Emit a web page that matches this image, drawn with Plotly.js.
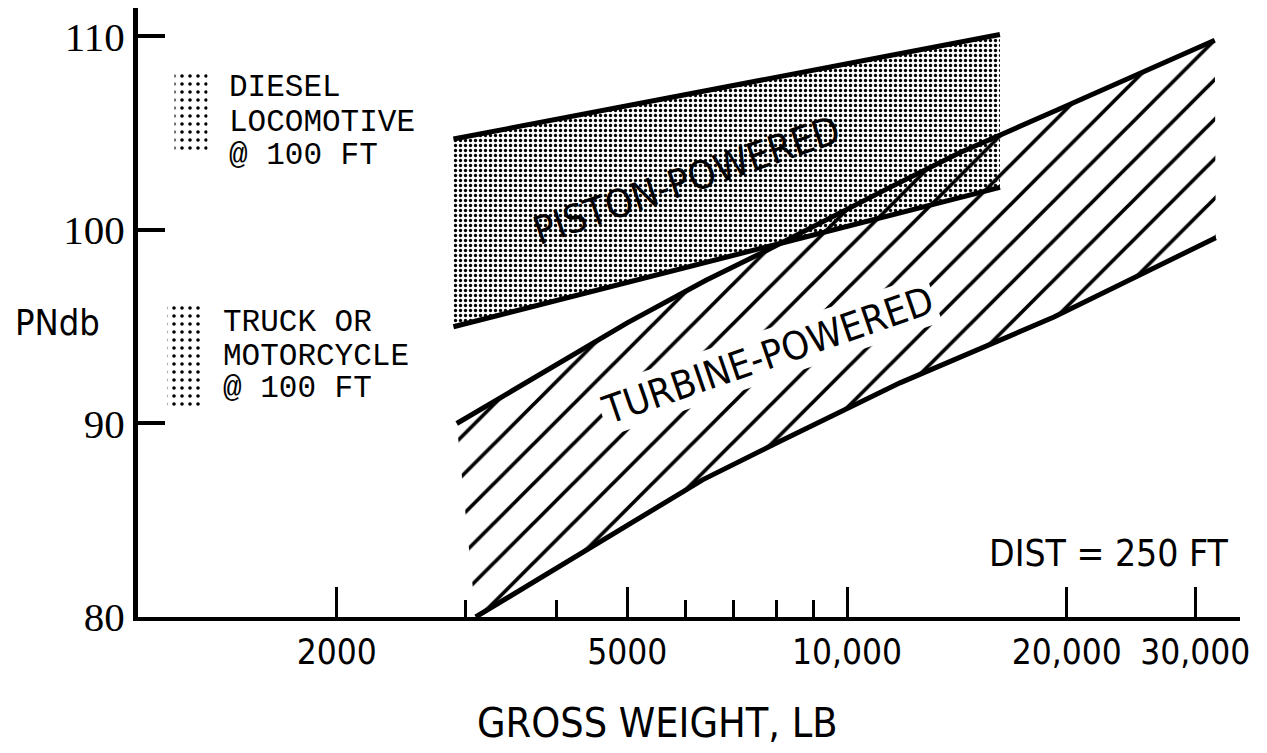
<!DOCTYPE html>
<html>
<head>
<meta charset="utf-8">
<script src="https://cdn.plot.ly/plotly-3.0.1.min.js"></script>
<style>
  html, body { margin: 0; padding: 0; background: #ffffff; }
  #chart { width: 1267px; height: 753px; }
</style>
</head>
<body>
<div id="chart"></div>
<script>
// ---------------- DATA ----------------
// Piston-powered band (gross weight, lb -> PNdb)
const pistonWeight = [2890, 16200];
const pistonLower  = [95.0, 102.2];
const pistonUpper  = [104.7, 110.1];

// Turbine-powered band
const turbineUpperWeight = [2920, 3880, 5000, 6410, 7770, 11450, 14290, 19400, 23900, 31900];
const turbineUpperPNdb   = [90.0, 92.75, 95.2, 97.4, 98.95, 102.2, 104.0, 106.2, 107.7, 109.8];
const turbineLowerWeight = [3100, 3760, 4930, 6350, 8020, 11820, 19210, 32000];
const turbineLowerPNdb   = [80.0, 81.9, 84.6, 87.1, 89.0, 92.1, 95.5, 99.6];

// Reference noise ranges at 100 ft (PNdb: low, high)
const dieselRange = [104.1, 108.2];
const truckRange  = [90.9, 96.1];

// Axis ticks
const weightTicks     = [2000, 5000, 10000, 20000, 30000];
const weightTickText  = ['2000', '5000', '10,000', '20,000', '30,000'];
const weightMinorTicks = [3000, 4000, 6000, 7000, 8000, 9000];
const pndbTicks = [80, 90, 100, 110];

// ---------------- LAYOUT HELPERS ----------------
const W = 1267, H = 753;
const M = { l: 138, r: 27, t: 8, b: 136 };
const PW = W - M.l - M.r, PH = H - M.t - M.b;
const px = x => (x - M.l) / PW;           // pixel -> paper x
const py = y => (H - M.b - y) / PH;       // pixel -> paper y

const SANS = '"DejaVu Sans Condensed", "Liberation Sans Narrow", "DejaVu Sans", sans-serif';
const SERIF = '"Liberation Serif", "DejaVu Serif", serif';
const MONO = '"Liberation Mono", "DejaVu Sans Mono", monospace';

const traces = [
  { // piston lower boundary
    type: 'scatter', mode: 'lines', x: pistonWeight, y: pistonLower,
    line: { color: '#000', width: 5 }, hoverinfo: 'skip'
  },
  { // piston upper boundary + stippled band
    type: 'scatter', mode: 'lines', x: pistonWeight, y: pistonUpper,
    fill: 'tonexty', fillcolor: 'rgba(0,0,0,0)',
    fillpattern: { shape: '.', fgcolor: '#000', bgcolor: '#ffffff', size: 5, solidity: 0.34 },
    line: { color: '#000', width: 5 }, hoverinfo: 'skip'
  },
  { // turbine lower boundary
    type: 'scatter', mode: 'lines', x: turbineLowerWeight, y: turbineLowerPNdb,
    line: { color: '#000', width: 5 }, hoverinfo: 'skip'
  },
  { // turbine upper boundary + hatched band
    type: 'scatter', mode: 'lines', x: turbineUpperWeight, y: turbineUpperPNdb,
    fill: 'tonexty', fillcolor: 'rgba(0,0,0,0)',
    fillpattern: { shape: '/', fgcolor: '#000', bgcolor: 'rgba(0,0,0,0)', size: 28, solidity: 0.13 },
    line: { color: '#000', width: 5 }, hoverinfo: 'skip'
  },
  { // diesel locomotive range
    type: 'bar', xaxis: 'x2', yaxis: 'y',
    x: [px(191)], width: [px(208) - px(175)],
    base: [dieselRange[0]], y: [dieselRange[1] - dieselRange[0]],
    marker: { color: '#ffffff', line: { width: 0 },
      pattern: { shape: '.', fgcolor: '#000', bgcolor: '#ffffff', size: 8, solidity: 0.16 } },
    hoverinfo: 'skip'
  },
  { // truck / motorcycle range
    type: 'bar', xaxis: 'x2', yaxis: 'y',
    x: [px(185)], width: [px(203) - px(168)],
    base: [truckRange[0]], y: [truckRange[1] - truckRange[0]],
    marker: { color: '#ffffff', line: { width: 0 },
      pattern: { shape: '.', fgcolor: '#000', bgcolor: '#ffffff', size: 8, solidity: 0.16 } },
    hoverinfo: 'skip'
  }
];

const ann = (text, x, y, opts) => Object.assign({
  text, xref: 'paper', yref: 'paper', x: px(x), y: py(y),
  showarrow: false, xanchor: 'center', yanchor: 'middle',
  font: { family: SANS, size: 36, color: '#000' }
}, opts || {});

const legendFont = { family: MONO, size: 31, color: '#000' };

const annotations = [
  ann('PISTON-POWERED', 686, 180, { textangle: -19, font: { family: SANS, size: 39, color: '#000' } }),
  ann('TURBINE-POWERED', 767, 355, { textangle: -19, bgcolor: '#ffffff', borderpad: 2,
      font: { family: SANS, size: 39, color: '#000' } }),
  ann('DIST = 250 FT', 1109, 553, { font: { family: SANS, size: 37, color: '#000' } }),
  ann('PNdb', 57, 322, { font: { family: SANS, size: 36, color: '#000' } }),
  ann('GROSS WEIGHT, LB', 657, 723, { font: { family: SANS, size: 41, color: '#000' } }),
  ann('DIESEL', 227, 88, { xanchor: 'left', font: legendFont }),
  ann('LOCOMOTIVE', 227, 122, { xanchor: 'left', font: legendFont }),
  ann('@ 100 FT', 227, 155, { xanchor: 'left', font: legendFont }),
  ann('TRUCK OR', 221, 323, { xanchor: 'left', font: legendFont }),
  ann('MOTORCYCLE', 221, 356, { xanchor: 'left', font: legendFont }),
  ann('@ 100 FT', 221, 388, { xanchor: 'left', font: legendFont })
];

const layout = {
  width: W, height: H,
  margin: M,
  paper_bgcolor: '#ffffff', plot_bgcolor: '#ffffff',
  showlegend: false,
  barmode: 'overlay',
  xaxis: {
    type: 'log', range: [3.02877, 4.53836],
    showline: true, linecolor: '#000', linewidth: 4,
    showgrid: false, zeroline: false,
    tickmode: 'array', tickvals: weightTicks, ticktext: weightTickText,
    ticks: 'inside', ticklen: 30, tickwidth: 3, tickcolor: '#000',
    ticklabelstandoff: 1,
    tickfont: { family: SANS, size: 35, color: '#000' },
    minor: { tickmode: 'array', tickvals: weightMinorTicks, ticks: 'inside',
             ticklen: 17, tickwidth: 3, tickcolor: '#000', showgrid: false }
  },
  xaxis2: { overlaying: 'x', range: [0, 1], visible: false, fixedrange: true },
  yaxis: {
    range: [80, 111.47],
    showline: true, linecolor: '#000', linewidth: 5,
    showgrid: false, zeroline: false,
    tickmode: 'array', tickvals: pndbTicks,
    ticks: 'inside', ticklen: 27, tickwidth: 4, tickcolor: '#000',
    ticklabelstandoff: 0,
    tickfont: { family: SERIF, size: 41, color: '#000' }
  },
  annotations
};

Plotly.newPlot('chart', traces, layout, { staticPlot: true, displayModeBar: false });
</script>
</body>
</html>
